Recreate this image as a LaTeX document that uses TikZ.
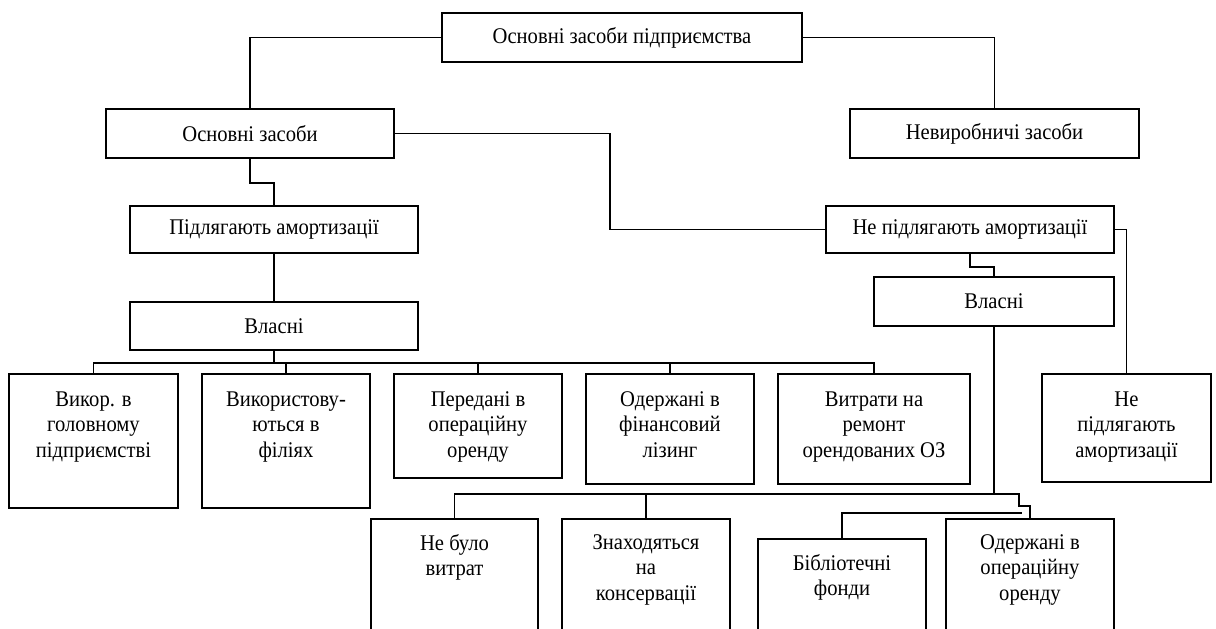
\documentclass[tikz,border=0pt]{standalone}
\usepackage{fontspec}
\setmainfont{Liberation Serif}[FakeStretch=0.92]
\usetikzlibrary{positioning}

\tikzset{
  box/.style={draw, line width=0.9pt, inner sep=0pt, align=center,
    font=\fontsize{11.2pt}{12.75pt}\selectfont},
  tallbox/.style={box, anchor=north},
  txt/.style={inner sep=0pt, align=center,
    font=\fontsize{11.2pt}{12.75pt}\selectfont},
  link/.style={line width=0.9pt}
}

\begin{document}
\begin{tikzpicture}[x=0.5pt, y=-0.5pt]
\clip (0,0) rectangle (1216,628);

% ===== top levels =====
\node[box, minimum width=180pt, minimum height=24.5pt] (top) at (622,37.5) {Основні засоби підприємства};
\node[box, minimum width=144pt, minimum height=24.5pt] (os) at (250,133.5) {Основні засоби};
\node[box, minimum width=144.5pt, minimum height=24.5pt] (nevyr) at (994.5,133.5) {Невиробничі засоби};
\node[box, minimum width=144pt, minimum height=23.5pt] (pidl) at (274,229.5) {Підлягають амортизації};
\node[box, minimum width=144pt, minimum height=23.5pt] (nepidl) at (970,229.5) {Не підлягають амортизації};
\node[box, minimum width=144pt, minimum height=24pt] (vlasL) at (274,326) {Власні};
\node[box, minimum width=120pt, minimum height=24.5pt] (vlasR) at (994,301.5) {Власні};

% ===== row under left "Власні" =====
\node[tallbox, minimum width=84.5pt, minimum height=67pt] (vikor) at (93.5,373) {};
\node[tallbox, minimum width=84pt, minimum height=67pt] (vykor) at (286,373) {};
\node[tallbox, minimum width=84pt, minimum height=52pt] (pered) at (478,373) {};
\node[tallbox, minimum width=84pt, minimum height=55pt] (oderzhF) at (670,373) {};
\node[tallbox, minimum width=96pt, minimum height=55pt] (vytr) at (874,373) {};
\node[tallbox, minimum width=84.5pt, minimum height=54pt] (nepidlC) at (1126.5,373) {};

\node[txt, below=9pt of vikor.north] (vikorT) {Викор. в\\головному\\підприємстві};
\node[txt, below=9pt of vykor.north] (vykorT) {Використову-\\ються в\\філіях};
\node[txt, below=9pt of pered.north] (peredT) {Передані в\\операційну\\оренду};
\node[txt, below=9pt of oderzhF.north] (oderzhFT) {Одержані в\\фінансовий\\лізинг};
\node[txt, below=9pt of vytr.north] (vytrT) {Витрати на\\ремонт\\орендованих ОЗ};
\node[txt, below=9pt of nepidlC.north] (nepidlCT) {Не\\підлягають\\амортизації};

% ===== row under right "Власні" (cut by the page edge) =====
\node[tallbox, minimum width=83.5pt, minimum height=70pt] (nebulo) at (454.5,518) {};
\node[tallbox, minimum width=84pt, minimum height=70pt] (znah) at (646,518) {};
\node[tallbox, minimum width=84pt, minimum height=60pt] (bibl) at (842,538) {};
\node[tallbox, minimum width=84pt, minimum height=70pt] (oderzhOp) at (1030,518) {};

\node[txt, below=8pt of nebulo.north] (nebuloT) {Не було\\витрат};
\node[txt, below=8pt of znah.north] (znahT) {Знаходяться\\на\\консервації};
\node[txt, below=8pt of bibl.north] (biblT) {Бібліотечні\\фонди};
\node[txt, below=8pt of oderzhOp.north] (oderzhOpT) {Одержані в\\операційну\\оренду};

% ===== connectors =====
\coordinate (jogA) at (610,0);
\draw[link] (top.west) -| (os.north);
\draw[link] (top.east) -| (nevyr.north);
\draw[link] (os.east) -| (jogA |- nepidl.west) -- (nepidl.west);
\draw[link] (os.south) -- ++(0,24) -| (pidl.north);
\draw[link] (pidl.south) -- (vlasL.north);

% bus under left "Власні"
\draw[link] (vlasL.south) -- ++(0,12) coordinate (busL);
\foreach \c in {vikor,vykor,pered,oderzhF,vytr}
  \draw[link] (busL) -| (\c.north);

% right branch
\draw[link] (nepidl.east) -| (nepidlC.north);
\draw[link] (nepidl.south) -- ++(0,13) -| (vlasR.north);
\draw[link] (vlasR.south) -- ++(0,167) coordinate (busR);
\draw[link] (busR) -| (nebulo.north);
\draw[link] (busR) -| (znah.north);
\draw[link] (busR) -| ++(25,12) -| (oderzhOp.north);
\draw[link] (bibl.north) |- ++(180,-25);
\end{tikzpicture}
\end{document}
